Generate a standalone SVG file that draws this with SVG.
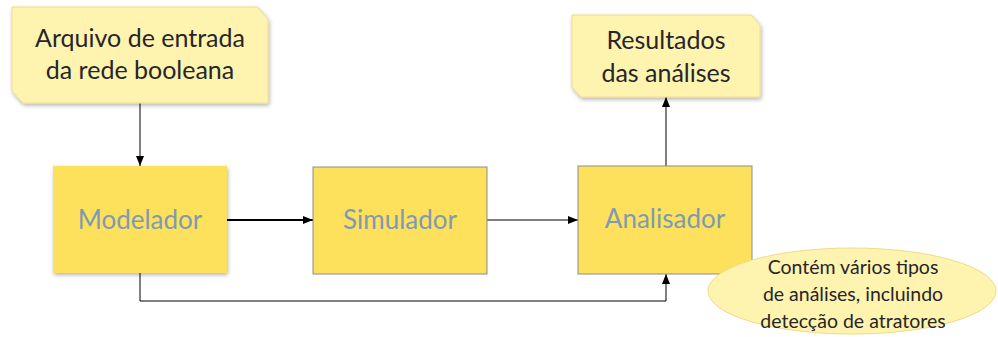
<svg xmlns="http://www.w3.org/2000/svg" width="998" height="337" viewBox="0 0 998 337">
<style>
.note{fill:#FFF3B0;stroke:#EEDC8A;stroke-width:1}
.proc{fill:#FDE05C}
.procb{fill:#FDE05C;stroke:#8C8C8C;stroke-width:1}
.t1{font-family:Lato,"Open Sans",sans-serif;font-size:25px;fill:#262626;text-anchor:middle}
.t2{font-family:Lato,"Open Sans",sans-serif;font-size:26px;fill:#7F9AB2;text-anchor:middle}
.t3{font-family:Lato,"Open Sans",sans-serif;font-size:19.5px;fill:#262626;text-anchor:middle}
.c{fill:none;stroke:#000;stroke-width:1}
</style>
<defs>
<marker id="ah" viewBox="0 0 10 10" refX="10" refY="5" markerWidth="10" markerHeight="10" markerUnits="userSpaceOnUse" orient="auto">
<path d="M0,1 L10,5 L0,9 Z" fill="#000"/>
</marker>
<filter id="sh" x="-10%" y="-10%" width="130%" height="130%">
<feGaussianBlur in="SourceAlpha" stdDeviation="2"/>
<feOffset dx="1" dy="2"/>
<feComponentTransfer><feFuncA type="linear" slope="0.3"/></feComponentTransfer>
<feMerge><feMergeNode/><feMergeNode in="SourceGraphic"/></feMerge>
</filter>
</defs>
<g id="connectors">
<path class="c" d="M140,103 V166" marker-end="url(#ah)"/>
<path class="c" d="M227,220 H313" style="stroke-width:2" marker-end="url(#ah)"/>
<path class="c" d="M487,220 H578" marker-end="url(#ah)"/>
<path class="c" d="M666,166 V97" marker-end="url(#ah)"/>
<path class="c" d="M140,273 V301 H666 V274" marker-end="url(#ah)"/>
</g>
<g id="entrada">
<path class="note" filter="url(#sh)" d="M12,7 H257 L268,19 V103 H23 L12,91 Z"/>
<text class="t1" x="140" y="47">Arquivo de entrada</text>
<text class="t1" x="140" y="79">da rede booleana</text>
</g>
<g id="resultados">
<path class="note" filter="url(#sh)" d="M572,15 H751 L760,25 V97 H581 L572,87 Z"/>
<text class="t1" x="666" y="49">Resultados</text>
<text class="t1" x="666" y="82">das análises</text>
</g>
<g id="modelador">
<rect class="proc" filter="url(#sh)" x="53" y="166" width="174" height="107"/>
<text class="t2" x="140" y="229">Modelador</text>
</g>
<g id="simulador">
<rect class="procb" x="313" y="167" width="174" height="107"/>
<text class="t2" x="400" y="229">Simulador</text>
</g>
<g id="analisador">
<rect class="procb" x="578" y="166" width="174" height="108"/>
<text class="t2" x="665" y="228">Analisador</text>
</g>
<g id="nota">
<ellipse class="note" cx="852" cy="291" rx="144" ry="43"/>
<text class="t3" x="853" y="274">Contém vários tipos</text>
<text class="t3" x="853" y="301">de análises, incluindo</text>
<text class="t3" x="853" y="328">detecção de atratores</text>
</g>
</svg>
